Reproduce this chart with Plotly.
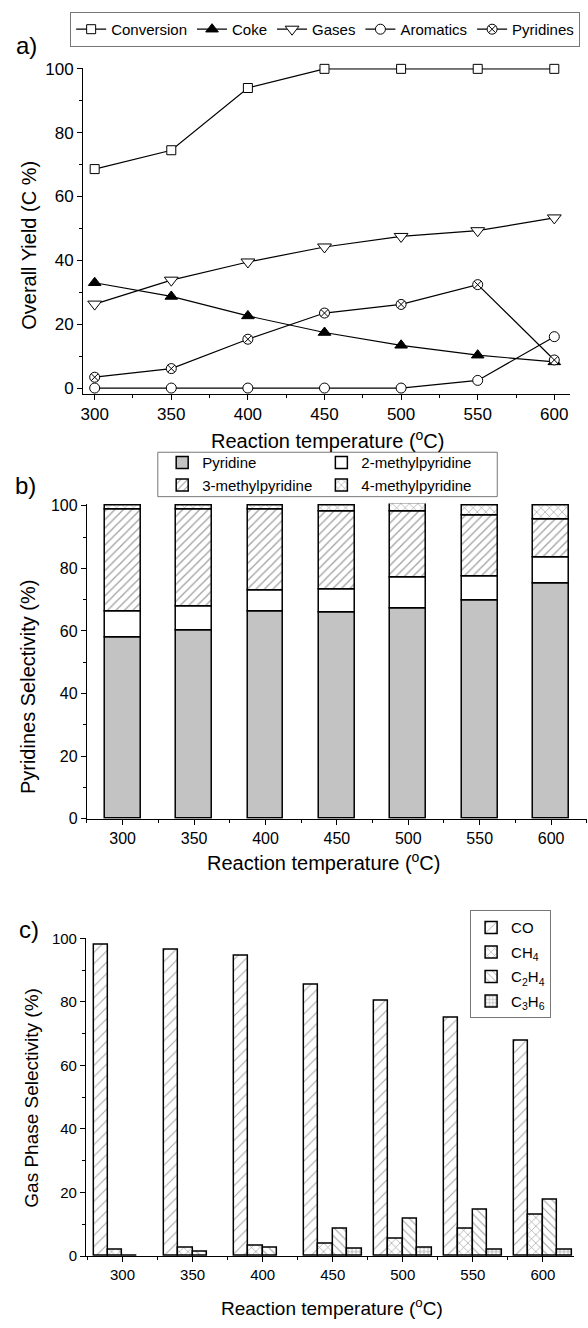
import plotly.graph_objects as go

# ---------------- data ----------------
temps = [300, 350, 400, 450, 500, 550, 600]

# panel a: overall yield (C %)
conversion = [68.6, 74.5, 94.0, 100, 100, 100, 100]
coke = [33.0, 28.7, 22.6, 17.4, 13.4, 10.3, 8.2]
gases = [26.3, 33.8, 39.5, 44.2, 47.5, 49.3, 53.3]
aromatics = [0, 0, 0, 0, 0, 2.4, 16.1]
pyridines = [3.4, 6.1, 15.3, 23.5, 26.2, 32.4, 8.8]

# panel b: pyridines selectivity (%), stacked
pyridine = [57.8, 60.0, 66.2, 65.9, 67.2, 69.8, 75.0]
methyl2 = [8.5, 7.9, 6.7, 7.3, 10.0, 7.7, 8.6]
methyl3 = [32.6, 31.0, 25.9, 24.9, 20.9, 19.3, 12.1]
methyl4 = [1.1, 1.1, 1.2, 1.9, 2.5, 3.2, 4.3]

# panel c: gas phase selectivity (%)  (None = not detected, no bar drawn)
co = [98.1, 96.3, 94.4, 85.4, 80.5, 75.0, 67.9]
ch4 = [2.0, 2.8, 3.4, 3.9, 5.5, 8.8, 12.9]
c2h4 = [0.3, 1.3, 2.6, 8.8, 11.8, 14.5, 17.7]
c3h6 = [None, None, None, 2.4, 2.7, 2.1, 2.1]

W, H = 588, 1328
FONT = "Liberation Sans, Arial, sans-serif"


def fx(p):
    return p / W


def fy(p):
    return 1 - p / H


fig = go.Figure()

# ---------------- panel a ----------------
line_style = dict(color="black", width=1.2)
series_a = [
    ("Conversion", conversion, dict(symbol="square", size=9, color="white", line=dict(color="black", width=1))),
    ("Coke", coke, dict(symbol="triangle-up", size=11, color="black", line=dict(color="black", width=1))),
    ("Gases", gases, dict(symbol="triangle-down", size=12, color="white", line=dict(color="black", width=1))),
    ("Aromatics", aromatics, dict(symbol="circle", size=10, color="white", line=dict(color="black", width=1))),
    ("Pyridines", pyridines, dict(symbol="circle-x", size=10, color="white", line=dict(color="black", width=1))),
]
for name, vals, mk in series_a:
    fig.add_trace(go.Scatter(x=temps, y=vals, name=name, mode="lines+markers",
                             line=line_style, marker=mk, cliponaxis=False,
                             xaxis="x", yaxis="y", legend="legend"))

# ---------------- panel b (stacked via explicit bases) ----------------
base2 = list(pyridine)
base3 = [a + b for a, b in zip(base2, methyl2)]
base4 = [a + b for a, b in zip(base3, methyl3)]

bar_line = dict(color="black", width=1.5)
series_b = [
    ("Pyridine", pyridine, [0] * len(temps), dict(color="#c3c3c3", line=bar_line), "legend2"),
    ("2-methylpyridine", methyl2, base2, dict(color="white", line=bar_line), "legend3"),
    ("3-methylpyridine", methyl3, base3, dict(color="white", line=bar_line,
                                               pattern=dict(shape="/", fgcolor="#444444", bgcolor="white",
                                                            size=6, solidity=0.22)), "legend2"),
    ("4-methylpyridine", methyl4, base4, dict(color="white", line=bar_line,
                                               pattern=dict(shape="x", fgcolor="#333333", bgcolor="white",
                                                            size=6, solidity=0.2)), "legend3"),
]
for name, vals, base, mk, lg in series_b:
    fig.add_trace(go.Bar(x=temps, y=vals, base=base, name=name, width=25, marker=mk,
                         xaxis="x2", yaxis="y2", legend=lg, legendgroup=name))

# ---------------- panel c ----------------
bw = 10.3
series_c = [
    ("CO", co, dict(shape="/", fgcolor="#555555", size=8, solidity=0.14), -2 * bw),
    ("CH<sub>4</sub>", ch4, dict(shape="x", fgcolor="#333333", size=6, solidity=0.2), -bw),
    ("C<sub>2</sub>H<sub>4</sub>", c2h4, dict(shape="\\", fgcolor="#444444", size=6, solidity=0.18), 0),
    ("C<sub>3</sub>H<sub>6</sub>", c3h6, dict(shape="+", fgcolor="#333333", size=4, solidity=0.3), bw),
]
for name, vals, pat, off in series_c:
    pat = dict(pat, bgcolor="white")
    fig.add_trace(go.Bar(x=temps, y=vals, name=name, width=bw, offset=off,
                         marker=dict(color="white", line=bar_line, pattern=pat),
                         xaxis="x3", yaxis="y3", legend="legend4", legendgroup=name))

# ---------------- axes ----------------
def axis_common(size):
    return dict(showline=True, linecolor="black", linewidth=1.2, ticks="outside",
                ticklen=5, tickwidth=1.2, tickcolor="black", showgrid=False,
                zeroline=False, tickfont=dict(family=FONT, size=size, color="black"))


fig.update_layout(
    xaxis=dict(axis_common(17), domain=[fx(80.6), fx(570)], range=[292.5, 610.3], anchor="y",
               tick0=300, dtick=50,
               minor=dict(tick0=300, dtick=25, ticks="outside", ticklen=3, tickcolor="black")),
    yaxis=dict(axis_common(17), domain=[fy(391), fy(61)], range=[-1.86, 100.2], anchor="x",
               tick0=0, dtick=20,
               minor=dict(tick0=0, dtick=10, ticks="outside", ticklen=3, tickcolor="black")),
    xaxis2=dict(axis_common(16), domain=[fx(84.4), fx(586.8)], range=[275, 625], anchor="y2",
                tick0=300, dtick=50,
                minor=dict(tick0=275, dtick=25, ticks="outside", ticklen=3, tickcolor="black")),
    yaxis2=dict(axis_common(16), domain=[fy(821.3), fy(502)], range=[0, 100.7], anchor="x2",
                tick0=0, dtick=20,
                minor=dict(tick0=0, dtick=10, ticks="outside", ticklen=3, tickcolor="black")),
    xaxis3=dict(axis_common(15), domain=[fx(83.5), fx(573.7)], range=[274, 622], anchor="y3",
                tick0=300, dtick=50,
                minor=dict(tick0=275, dtick=25, ticks="outside", ticklen=3, tickcolor="black")),
    yaxis3=dict(axis_common(15), domain=[fy(1264.3), fy(941.7)], range=[0, 100.2], anchor="x3",
                tick0=0, dtick=20,
                minor=dict(tick0=0, dtick=10, ticks="outside", ticklen=3, tickcolor="black")),
)

# ---------------- legends ----------------
fig.update_layout(
    legend=dict(orientation="h", x=fx(67.5), y=fy(4), xanchor="left", yanchor="top",
                bordercolor="#777777", borderwidth=1, bgcolor="white",
                font=dict(family=FONT, size=15, color="black")),
    legend2=dict(orientation="v", x=fx(160), y=fy(444), xanchor="left", yanchor="top",
                 bgcolor="rgba(0,0,0,0)", tracegroupgap=0,
                 font=dict(family=FONT, size=15, color="black")),
    legend3=dict(orientation="v", x=fx(320), y=fy(444), xanchor="left", yanchor="top",
                 bgcolor="rgba(0,0,0,0)", tracegroupgap=0,
                 font=dict(family=FONT, size=15, color="black")),
    legend4=dict(orientation="v", x=fx(469.5), y=fy(914), xanchor="left", yanchor="top",
                 bordercolor="#777777", borderwidth=1, bgcolor="white", tracegroupgap=2,
                 font=dict(family=FONT, size=15, color="black")),
)

# border around panel b legend
fig.add_shape(type="rect", xref="paper", yref="paper",
              x0=fx(155.6), x1=fx(496.8), y0=fy(495), y1=fy(450),
              line=dict(color="#777777", width=1))

# ---------------- text ----------------
xt = "Reaction temperature (<sup>o</sup>C)"
ann = [
    dict(text="a)", x=fx(24), y=fy(38), size=24, angle=0),
    dict(text="b)", x=fx(23), y=fy(484), size=24, angle=0),
    dict(text="c)", x=fx(26), y=fy(933), size=24, angle=0),
    dict(text="Overall Yield (C %)", x=fx(26), y=fy(240), size=20, angle=-90),
    dict(text="Pyridines Selectivity (%)", x=fx(25), y=fy(687), size=20, angle=-90),
    dict(text="Gas Phase Selectivity (%)", x=fx(29), y=fy(1104), size=19, angle=-90),
    dict(text=xt, x=fx(326), y=fy(437), size=20, angle=0),
    dict(text=xt, x=fx(322), y=fy(865), size=20, angle=0),
    dict(text=xt, x=fx(331), y=fy(1316), size=19, angle=0),
]
for a in ann:
    fig.add_annotation(text=a["text"], x=a["x"], y=a["y"], xref="paper", yref="paper",
                       showarrow=False, textangle=a["angle"], xanchor="center", yanchor="middle",
                       font=dict(family=FONT, size=a["size"], color="black"))

fig.update_layout(
    width=W, height=H, margin=dict(l=0, r=0, t=0, b=0),
    paper_bgcolor="white", plot_bgcolor="white",
    barmode="overlay", bargap=0,
    font=dict(family=FONT, color="black"),
    showlegend=True,
)

fig.write_html("out.html")
